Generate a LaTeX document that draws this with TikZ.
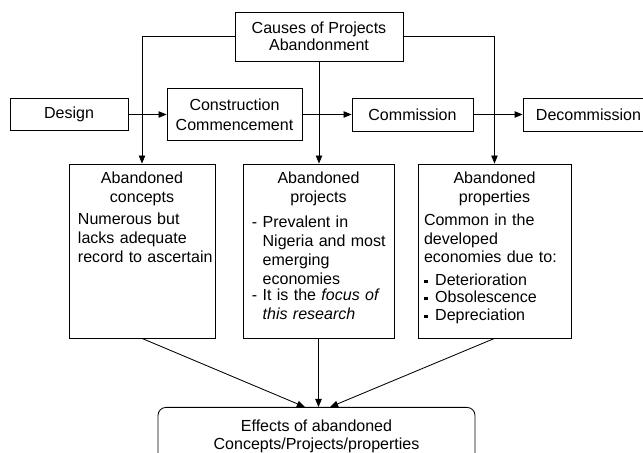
\documentclass[tikz,border=0pt]{standalone}
\usepackage{fontspec}
\setmainfont{Liberation Sans}
\usetikzlibrary{calc}
\usetikzlibrary{positioning}
\usetikzlibrary{arrows.meta}
\newcommand{\boxfont}{\fontsize{11.4}{13.5}\selectfont}
\newcommand{\sqbullet}{\raisebox{0.07cm}{\rule{0.09cm}{0.09cm}}\hspace{0.19cm}}
\tikzstyle{stagebox} = [draw, line width=0.6pt, align=center, font=\boxfont, inner sep=0pt]
\tikzstyle{typebox} = [draw, line width=0.6pt, minimum height=4.35cm]
\tikzstyle{typetext} = [anchor=north, inner sep=0pt, font=\boxfont]
\tikzstyle{link} = [line width=0.6pt, -{Triangle[length=0.2cm, width=0.16cm]}]

\begin{document}
\begin{tikzpicture}
    \useasboundingbox (-7.975,0.9125) rectangle (8.1,-10.4125);

    \node[stagebox, minimum width=4.2cm, minimum height=1.225cm] (causes) {Causes of Projects\\[-1.7pt]Abandonment};
    \node[stagebox, minimum width=2.95cm, minimum height=0.8cm] (design) at ($(causes)+(-6.25,-1.95)$) {Design};
    \node[stagebox, minimum width=3.375cm, minimum height=1.3cm] (constr) at ($(causes)+(-2.1125,-1.95)$) {Construction\\[0.7pt]Commencement};
    \node[stagebox, minimum width=3.025cm, minimum height=0.825cm] (commission) at ($(causes)+(2.3375,-1.95)$) {Commission};
    \node[stagebox, minimum width=3.275cm, minimum height=0.825cm] (decommission) at ($(causes)+(6.7375,-1.95)$) {Decommission};
    \draw[link] (design) -- (constr);
    \draw[link] (constr) -- (commission);
    \draw[link] (commission) -- (decommission);

    % the three kinds of abandonment
    \node[typebox, minimum width=3.65cm] (ab_concepts) at ($(causes)+(-4.425,-5.3625)$) {};
    \node[typebox, minimum width=3.775cm] (ab_projects) at ($(causes)+(-0.0125,-5.3625)$) {};
    \node[typebox, minimum width=3.825cm] (ab_properties) at ($(causes)+(4.3875,-5.3625)$) {};
    \node[typetext, text width=3.2cm] (ab_concepts_txt) at ($(ab_concepts.north)+(0,-0.2)$) {{\centering Abandoned\\concepts\par}\raggedright\vspace{0.075cm}%
        \begin{tabular}[t]{@{}l@{}}Numerous but\\lacks adequate\\record to ascertain\end{tabular}};
    \node[typetext, text width=3.325cm] (ab_projects_txt) at ($(ab_projects.north)+(0,-0.2)$) {{\centering Abandoned\\projects\par}\raggedright\vspace{0.15cm}%
        \begin{tabular}[t]{@{}l@{}}- Prevalent in\\\phantom{- }Nigeria and most\\\phantom{- }emerging\\\phantom{- }economies\\[-0.07cm]- It is the \textit{focus of}\\\phantom{- }\textit{this research}\end{tabular}};
    \node[typetext, text width=3.525cm] (ab_properties_txt) at ($(ab_properties.north)+(0,-0.2)$) {{\centering Abandoned\\properties\par}\raggedright\vspace{0.09cm}%
        \begin{tabular}[t]{@{}l@{}}Common in the\\developed\\economies due to:\\[0.1cm]\sqbullet Deterioration\\[-0.05cm]\sqbullet Obsolescence\\[-0.025cm]\sqbullet Depreciation\end{tabular}};
    \draw[link] (causes.west) -| (ab_concepts.north);
    \draw[link] (causes.south) -- (causes.south |- ab_projects.north);
    \draw[link] (causes.east) -| (ab_properties.north);

    \node[stagebox, rounded corners=0.2cm, minimum width=7.925cm, anchor=north, inner ysep=0.3cm] (effects) at ($(causes)+(-0.0625,-9.2625)$) {Effects of abandoned\\[-0.7pt]Concepts/Projects/properties};
    \draw[link] (ab_concepts.south) -- ($(effects.north)+(-0.29,0)$);
    \draw[link] (ab_projects.south) -- (ab_projects.south |- effects.north);
    \draw[link] (ab_properties.south) -- ($(effects.north)+(0.34,0)$);
\end{tikzpicture}
\end{document}
